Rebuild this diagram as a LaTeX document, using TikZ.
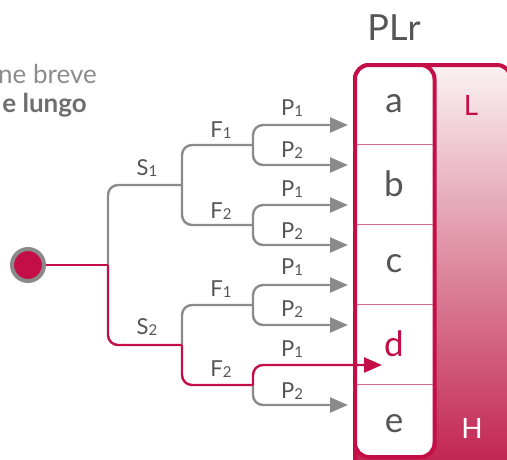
\documentclass[tikz,border=0pt]{standalone}
\usepackage{fontspec}
\setmainfont{Lato}
\usetikzlibrary{arrows.meta}
\definecolor{crim}{RGB}{196,14,72}
\definecolor{lgray}{RGB}{138,138,138}
\definecolor{tgray}{RGB}{85,85,85}
\definecolor{divc}{RGB}{212,104,138}
\definecolor{gtop}{RGB}{250,242,242}
\definecolor{gbot}{RGB}{192,30,76}
\definecolor{hgray}{RGB}{140,140,140}
\definecolor{bgray}{RGB}{110,110,110}
\newcommand\mysub[1]{\raisebox{-1pt}{\fontsize{15}{15}\selectfont #1}}
\begin{document}
\begin{tikzpicture}[x=1pt,y=-1pt,
  branch/.style={draw=lgray,line width=2.4pt,rounded corners=10pt},
  hot/.style={draw=crim,line width=2.4pt,rounded corners=10pt},
  tipg/.style={-{Triangle[length=18pt,width=15pt]}},
  lab/.style={text=tgray,font=\fontsize{22}{22}\selectfont,inner sep=0pt},
  cell/.style={text=tgray,font=\fontsize{35}{35}\selectfont,inner sep=0pt},
]
\useasboundingbox (0,0) rectangle (507,459);
\clip (0,0) rectangle (507,459);

% top-left texts
\node[anchor=base east,text=hgray,font=\fontsize{26}{26}\selectfont,inner sep=0pt] (txtA) at (97,83) {ne breve};
\node[anchor=base east,text=bgray,font=\bfseries\fontsize{26}{26}\selectfont,inner sep=0pt] (txtB) at (87,112) {e lungo};

% title
\node[text=tgray,font=\fontsize{36}{36}\selectfont,inner sep=0pt] (plr) at (394,28) {PLr};

% gradient panel
\shade[top color=gtop,bottom color=gbot,rounded corners=14pt] (355,65) rectangle (511,475);
\draw[crim,line width=4pt,rounded corners=14pt] (355,65) rectangle (511,475);
% white column
\draw[crim,fill=white,line width=4pt,rounded corners=14pt] (355,65) rectangle (434.5,457);
\foreach \yy in {144,224,304,384}{
  \draw[divc,line width=1pt] (357,\yy) -- (432.5,\yy);
}
\node[cell] (a) at (394,104) {a};
\node[cell] (b) at (394,184) {b};
\node[cell] (c) at (394,264) {c};
\node[cell,text=crim] (d) at (394,344) {d};
\node[cell] (e) at (394,424) {e};
\node[text=crim,font=\fontsize{28}{28}\selectfont,inner sep=0pt] (lo) at (471,105) {L};
\node[text=white,font=\fontsize{28}{28}\selectfont,inner sep=0pt] (hi) at (472,428) {H};

% tree
\node[circle,fill=crim,draw=lgray,line width=4pt,minimum size=32pt,inner sep=0pt] (start) at (28,265) {};
\coordinate (j0) at (108,265);
\coordinate (fU) at (182,185);
\coordinate (fL) at (182,345);
\coordinate (pUA) at (253,145);
\coordinate (pUB) at (253,225);
\coordinate (pLA) at (253,305);
\coordinate (pLB) at (253,385);
\coordinate (t1) at (348,125);
\coordinate (t2) at (348,165);
\coordinate (t3) at (348,205);
\coordinate (t4) at (348,245);
\coordinate (t5) at (348,285);
\coordinate (t6) at (348,325);
\coordinate (t8) at (348,405);
\coordinate (td) at (382,365);

\draw[branch] (j0) |- (fU);
\draw[branch] (fU) |- (pUA);
\draw[branch] (fU) |- (pUB);
\draw[branch] (fL) |- (pLA);
\draw[branch,tipg] (pUA) |- (t1);
\draw[branch,tipg] (pUA) |- (t2);
\draw[branch,tipg] (pUB) |- (t3);
\draw[branch,tipg] (pUB) |- (t4);
\draw[branch,tipg] (pLA) |- (t5);
\draw[branch,tipg] (pLA) |- (t6);
\draw[branch,tipg] (pLB) |- (t8);

\draw[hot] (start) -- (j0);
\draw[hot] (j0) |- (fL);
\draw[hot] (fL) |- (pLB);
\draw[hot,tipg] (pLB) |- (td);

% labels
\node[lab] (s1) at (147,168) {S\mysub{1}};
\node[lab] (s2) at (147,327) {S\mysub{2}};
\node[lab] (f1u) at (221,130) {F\mysub{1}};
\node[lab] (f2u) at (221,211) {F\mysub{2}};
\node[lab] (f1l) at (221,289) {F\mysub{1}};
\node[lab] (f2l) at (221,369) {F\mysub{2}};
\node[lab] (p1a) at (292,108) {P\mysub{1}};
\node[lab] (p2a) at (292,150) {P\mysub{2}};
\node[lab] (p1b) at (292,189) {P\mysub{1}};
\node[lab] (p2b) at (292,231) {P\mysub{2}};
\node[lab] (p1c) at (292,267) {P\mysub{1}};
\node[lab] (p2c) at (292,309) {P\mysub{2}};
\node[lab] (p1d) at (292,349) {P\mysub{1}};
\node[lab] (p2d) at (292,391) {P\mysub{2}};
\end{tikzpicture}
\end{document}
